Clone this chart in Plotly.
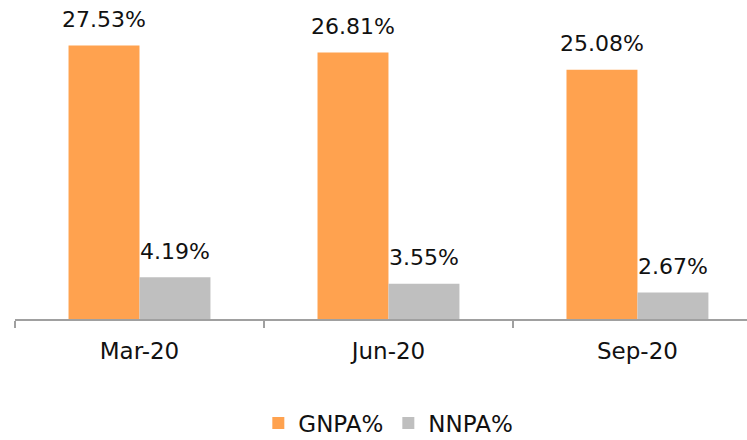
import plotly.graph_objects as go

categories = ["Mar-20", "Jun-20", "Sep-20"]
gnpa = [27.53, 26.81, 25.08]
nnpa = [4.19, 3.55, 2.67]
series_names = ["GNPA%", "NNPA%"]
colors = ["#FFA24F", "#BFBFBF"]

FONT = "DejaVu Sans"
fig = go.Figure()
for name, vals, col in zip(series_names, [gnpa, nnpa], colors):
    fig.add_trace(go.Bar(
        x=categories, y=vals, name=name, marker=dict(color=col, line=dict(width=0)),
    ))

offsets = [-35.5, 35.5]
for vals, off in zip([gnpa, nnpa], offsets):
    for c, v in zip(categories, vals):
        fig.add_annotation(x=c, y=v, xref="x", yref="y", text=f"{v:.2f}%",
                           showarrow=False, xshift=off, yshift=26, yanchor="middle",
                           font=dict(size=22, color="#111111", family=FONT))

fig.update_layout(
    width=747, height=440,
    margin=dict(l=15, r=0, t=0, b=121, autoexpand=False),
    paper_bgcolor="white", plot_bgcolor="white",
    barmode="group", bargap=0.43, bargroupgap=0,
    font=dict(family=FONT, color="#111111"),
    showlegend=True,
    legend=dict(orientation="h", x=0.51, xanchor="center", y=-0.326, yanchor="middle",
                font=dict(size=23, color="#111111"), traceorder="normal"),
)
fig.update_xaxes(
    range=[-0.5, 2.44], tickson="boundaries", ticks="outside", ticklen=7,
    tickcolor="#A0A0A0", tickwidth=1.5, showline=True, linecolor="#A0A0A0", linewidth=1.5,
    tickfont=dict(size=23, color="#111111"), showgrid=False, ticklabelstandoff=11,
    automargin=False,
)
fig.update_yaxes(range=[0, 32.1], visible=False, showgrid=False)

fig.write_html("out.html", config={"displayModeBar": False},
               post_script="document.body.style.margin='0';")
